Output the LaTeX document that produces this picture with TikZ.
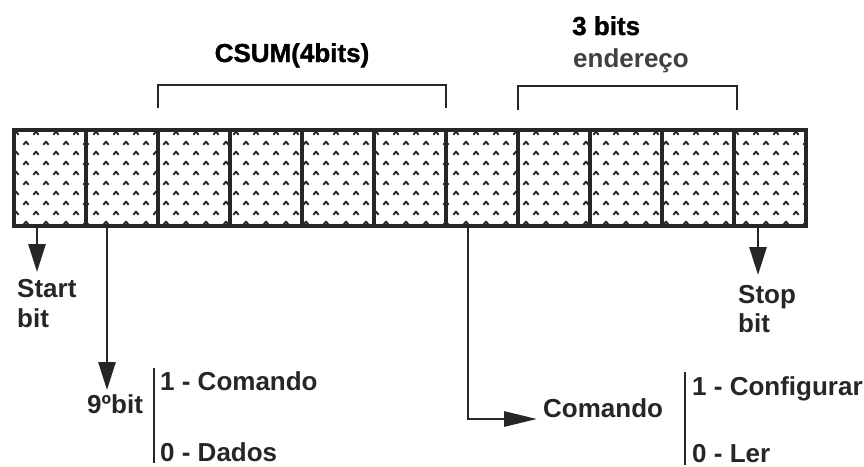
\documentclass[tikz,border=0pt]{standalone}
\usepackage{fontspec}
\setmainfont{Liberation Sans}
\newfontfamily\heavyfont{Liberation Sans Bold}[FakeBold=1.2]
\usetikzlibrary{arrows.meta}
\definecolor{ink}{HTML}{262626}
\definecolor{soft}{HTML}{404040}
\begin{document}
\begin{tikzpicture}[x=1pt,y=-1pt,
  cell/.style={draw=ink,line width=3.2pt,minimum width=72pt,minimum height=96pt,inner sep=0pt,outer sep=0pt},
  lbl/.style={anchor=base west,inner sep=0pt,text=ink,font=\fontsize{26}{30}\selectfont\bfseries},
  ttl/.style={anchor=base west,inner sep=0pt,text=black,font=\fontsize{26}{30}\selectfont\heavyfont},
  brk/.style={draw=ink,line width=2.2pt},
  arr/.style={draw=ink,line width=2.8pt,-{Triangle[width=17pt,length=28pt]}},
  bar/.style={draw=ink,line width=2.8pt},
  mk/.style={draw=ink,line width=1.9pt,line join=round}]
\useasboundingbox (0,0) rectangle (864,466);
\fill[white] (0,0) rectangle (864,466);
% dotted texture
\begin{scope}
\clip (14,130) rectangle (806,226);
\foreach \r in {0,...,9}{
  \pgfmathsetmacro\yy{133+10*\r}
  \pgfmathsetmacro\off{mod(\r,2)==0 ? 2 : 12}
  \foreach \c in {0,...,39}{
    \draw[mk] ({14+\off+20*\c-2.6},{\yy+1.8}) -- ({14+\off+20*\c},{\yy-1.4}) -- ({14+\off+20*\c+2.6},{\yy+1.8});
  }
}
\end{scope}
% cells
\foreach \i in {1,...,11}{
  \node[cell] (c\i) at ({14+72*(\i-1)+36},178) {};
}
% brackets
\coordinate (csl) at (158,108);
\coordinate (csr) at (446,108);
\draw[brk] (csl) -- (158,85) -- (446,85) -- (csr);
\coordinate (adl) at (518,110);
\coordinate (adr) at (737,110);
\draw[brk] (adl) -- (518,86) -- (737,86) -- (adr);
% titles
\node[ttl,anchor=base] (csum) at (292,62) {CSUM(4bits)};
\node[ttl] (bits3) at (572,35) {3 bits};
\node[lbl,text=soft] (ender) at (573,67) {endereço};
% start bit
\node[lbl] (start) at (17,297) {Start};
\node[lbl] (startb) at (17,327) {bit};
\draw[arr] (c1.south -| 37,0) -- (37,272);
% stop bit
\node[lbl] (stop) at (738,303) {Stop};
\node[lbl] (stopb) at (738,332) {bit};
\draw[arr] (c11.south -| 758,0) -- (758,275);
% 9th bit
\node[lbl] (nono) at (87,413) {9ºbit};
\draw[arr] (c2.south -| 107,0) -- (107,390);
\draw[bar] (154,368) -- (154,463);
\node[lbl] (cmd1) at (160,390) {1 - Comando};
\node[lbl] (dad0) at (160,461) {0 - Dados};
% comando
\node[lbl] (cmd) at (543,417) {Comando};
\draw[arr,-{Triangle[width=15pt,length=33pt]}] (c7.south -| 468,0) -- (468,419) -- (537,419);
\draw[bar] (685,372) -- (685,465);
\node[lbl] (conf) at (692,395) {1 - Configurar};
\node[lbl] (ler) at (692,462) {0 - Ler};
\end{tikzpicture}
\end{document}
